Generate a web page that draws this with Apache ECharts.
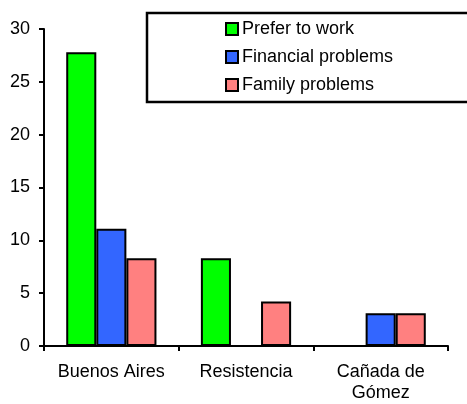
<!DOCTYPE html>
<html>
<head>
<meta charset="utf-8">
<script src="https://cdn.jsdelivr.net/npm/echarts@6/dist/echarts.min.js"></script>
<style>
  html, body { margin: 0; padding: 0; background: #fff; }
  #chart { width: 467px; height: 404px; }
</style>
</head>
<body>
<div id="chart"></div>
<script>
const cities = ["Buenos Aires", "Resistencia", "Cañada de\nGómez"];
const preferToWork = [27.8, 8.3, 0];
const financialProblems = [11.1, 0, 3.1];
const familyProblems = [8.3, 4.2, 3.1];

const chart = echarts.init(document.getElementById("chart"), null, { renderer: "canvas" });
const font = "Liberation Sans, Arial, sans-serif";

function bar(name, data, color) {
  return {
    name,
    type: "bar",
    data,
    barGap: "0%",
    barCategoryGap: "33%",
    itemStyle: { color, borderColor: "#000", borderWidth: 2 },
  };
}

chart.setOption({
  animation: false,
  grid: { left: 44, right: 19, top: 29, bottom: 58 },
  graphic: [
    {
      type: "rect",
      shape: { x: 147, y: 13, width: 340, height: 89 },
      style: { fill: "none", stroke: "#000", lineWidth: 2.5 },
      z: 1,
    },
  ],
  legend: {
    orient: "vertical",
    left: 225,
    top: 20,
    padding: 0,
    itemWidth: 12,
    itemHeight: 12,
    itemGap: 10,
    icon: "rect",
    textStyle: { fontFamily: font, fontSize: 18, lineHeight: 16, height: 16, color: "#000", padding: [0, 0, 0, -1] },
    itemStyle: { borderColor: "#000", borderWidth: 2 },
  },
  xAxis: {
    type: "category",
    data: cities,
    axisLine: { lineStyle: { color: "#000", width: 2 } },
    axisTick: { show: true, length: 5, lineStyle: { color: "#000", width: 2 } },
    axisLabel: { interval: 0, color: "#000", fontFamily: font, fontSize: 18, margin: 16, lineHeight: 21 },
  },
  yAxis: {
    type: "value",
    min: 0,
    max: 30,
    interval: 5,
    splitLine: { show: false },
    axisLine: { show: true, lineStyle: { color: "#000", width: 2 } },
    axisTick: { show: true, length: 5, lineStyle: { color: "#000", width: 2 } },
    axisLabel: { color: "#000", fontFamily: font, fontSize: 18, margin: 14 },
  },
  series: [
    bar("Prefer to work", preferToWork, "#00ff00"),
    bar("Financial problems", financialProblems, "#3366ff"),
    bar("Family problems", familyProblems, "#ff8080"),
  ],
});
</script>
</body>
</html>
